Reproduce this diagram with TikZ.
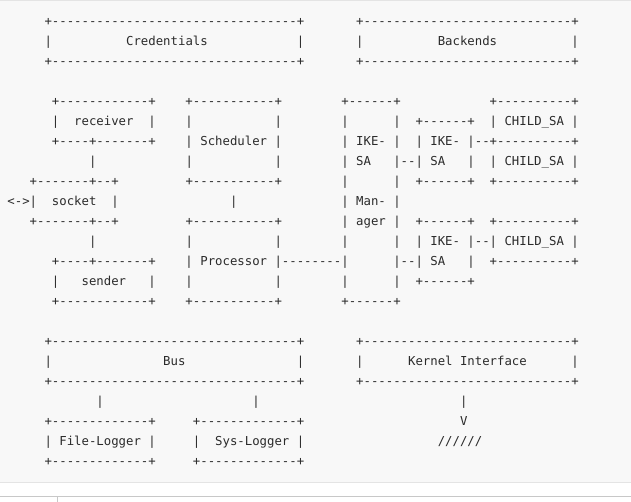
\documentclass[tikz,border=0pt]{standalone}
\usepackage{fontspec}
\setmonofont{DejaVu Sans Mono}
\definecolor{bgpanel}{HTML}{F8F8F8}
\definecolor{ink}{HTML}{2B2B2B}
\definecolor{rulea}{HTML}{E4E4E4}
\definecolor{ruleb}{HTML}{C8C8C8}
{\catcode`\ =\active\gdef {\hphantom{0}}}
\newcommand\asciirow{\begingroup\catcode`\ =\active\asciirowi}
\newcommand\asciirowi[2]{\endgroup\node[asc] (row#1) at (0,{-(25.5+20*#1)}) {#2};}
\tikzset{asc/.style={anchor=base west, inner sep=0pt, outer sep=0pt, text=ink,
  font=\ttfamily\fontsize{12.325}{14}\selectfont}}
\begin{document}
\begin{tikzpicture}[x=1pt,y=1pt]
\useasboundingbox (0,0) rectangle (631,-502);
\fill[white] (0,0) rectangle (631,-502);
\fill[bgpanel] (0,0) rectangle (631,-482);
\draw[rulea, line width=1pt] (0,-0.5) -- (631,-0.5);
\draw[rulea, line width=1pt] (0,-482.5) -- (631,-482.5);
\draw[ruleb, line width=1pt] (0,-496.5) -- (631,-496.5);
\draw[ruleb, line width=1pt] (57.5,-496.5) -- (57.5,-502);
\asciirow{0}{      +---------------------------------+       +----------------------------+}
\asciirow{1}{      |          Credentials            |       |          Backends          |}
\asciirow{2}{      +---------------------------------+       +----------------------------+}
\asciirow{4}{       +------------+    +-----------+        +------+            +----------+}
\asciirow{5}{       |  receiver  |    |           |        |      |  +------+  | CHILD\_SA |}
\asciirow{6}{       +----+-------+    | Scheduler |        | IKE- |  | IKE- |--+----------+}
\asciirow{7}{            |            |           |        | SA   |--| SA   |  | CHILD\_SA |}
\asciirow{8}{    +-------+--+         +-----------+        |      |  +------+  +----------+}
\asciirow{9}{ <->|  socket  |               |              | Man- |}
\asciirow{10}{    +-------+--+         +-----------+        | ager |  +------+  +----------+}
\asciirow{11}{            |            |           |        |      |  | IKE- |--| CHILD\_SA |}
\asciirow{12}{       +----+-------+    | Processor |--------|      |--| SA   |  +----------+}
\asciirow{13}{       |   sender   |    |           |        |      |  +------+}
\asciirow{14}{       +------------+    +-----------+        +------+}
\asciirow{16}{      +---------------------------------+       +----------------------------+}
\asciirow{17}{      |               Bus               |       |      Kernel Interface      |}
\asciirow{18}{      +---------------------------------+       +----------------------------+}
\asciirow{19}{             |                    |                           |}
\asciirow{20}{      +-------------+     +-------------+                     V}
\asciirow{21}{      | File-Logger |     |  Sys-Logger |                  //////}
\asciirow{22}{      +-------------+     +-------------+}
\end{tikzpicture}
\end{document}
